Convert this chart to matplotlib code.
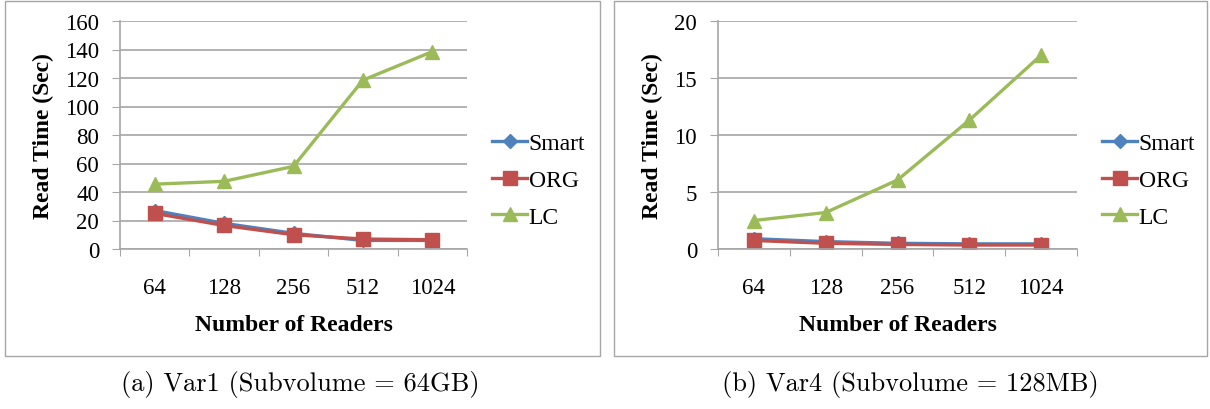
import matplotlib
matplotlib.use("Agg")
from matplotlib import pyplot as plt
from matplotlib.patches import Rectangle

plt.rcParams['font.family'] = ['Liberation Serif', 'DejaVu Serif']

readers = ["64", "128", "256", "512", "1024"]

# (a) Var1, subvolume 64GB
smart_a = [27, 18, 11, 6, 6]
org_a = [25, 16.5, 10, 7, 6.5]
lc_a = [45.5, 47.5, 58, 118.5, 138.5]

# (b) Var4, subvolume 128MB
smart_b = [0.9, 0.65, 0.5, 0.45, 0.45]
org_b = [0.75, 0.5, 0.4, 0.35, 0.35]
lc_b = [2.5, 3.2, 6.05, 11.3, 17.0]

captions = ["(a) Var1 (Subvolume = 64GB)", "(b) Var4 (Subvolume = 128MB)"]

W, H = 1210, 410
fig = plt.figure(figsize=(W / 100, H / 100), dpi=100)

grey = "#a6a6a6"
blue, red, green = "#4f81bd", "#c0504d", "#9bbb59"


def panel(box, axbox, smart, org, lc, ymax, ystep, legx, caption, capx):
    x0, x1 = box
    fig.patches.append(Rectangle((x0 / W, 1 - 357 / H), (x1 - x0) / W, 355 / H,
                                 transform=fig.transFigure, fill=False,
                                 edgecolor=grey, linewidth=1.0))
    l, r = axbox
    ax = fig.add_axes([l / W, 1 - 250 / H, (r - l) / W, 228 / H])
    xs = range(len(readers))
    ax.plot(xs, smart, color=blue, lw=2.4, marker="D", ms=7, label="Smart")
    ax.plot(xs, org, color=red, lw=2.4, marker="s", ms=9.5, label="ORG")
    ax.plot(xs, lc, color=green, lw=2.4, marker="^", ms=10, label="LC")
    ax.set_xlim(-0.5, len(readers) - 0.5)
    ax.set_ylim(0, ymax)
    ax.set_yticks([ystep * i for i in range(int(ymax / ystep) + 1)])
    ax.set_xticks([i - 0.5 for i in range(len(readers) + 1)])
    ax.set_xticklabels([])
    ax.set_xticks(list(xs), minor=True)
    ax.set_xticklabels(readers, minor=True)
    ax.tick_params(axis="x", which="major", length=5, color=grey, direction="out")
    ax.tick_params(axis="x", which="minor", length=0, pad=20, labelsize=16.5)
    ax.tick_params(axis="y", length=6, color=grey, labelsize=16.5, pad=9)
    ax.grid(axis="y", color=grey, lw=1.2)
    ax.set_axisbelow(True)
    for s in ["top", "right"]:
        ax.spines[s].set_visible(False)
    for s in ["left", "bottom"]:
        ax.spines[s].set_color(grey)
        ax.spines[s].set_linewidth(1.2)
    ax.set_ylabel("Read Time (Sec)", fontsize=17, fontweight="bold", labelpad=8)
    ax.set_xlabel("Number of Readers", fontsize=17, fontweight="bold", labelpad=12)
    ax.legend(loc="center left", bbox_to_anchor=(legx / W, 1 - 181 / H),
              bbox_transform=fig.transFigure, frameon=False, fontsize=17,
              handlelength=1.5, handletextpad=0.05, labelspacing=0.65,
              borderpad=0, borderaxespad=0)
    fig.text(capx / W, 1 - 385 / H, caption, ha="center", va="center",
             fontsize=19, family=["cmr10", "DejaVu Serif"])


panel((5, 600), (120, 467), smart_a, org_a, lc_a, 160, 20, 492, captions[0], 300)
panel((614, 1207), (718, 1077), smart_b, org_b, lc_b, 20, 5, 1102, captions[1], 910)

fig.savefig("out.png", dpi=100)
